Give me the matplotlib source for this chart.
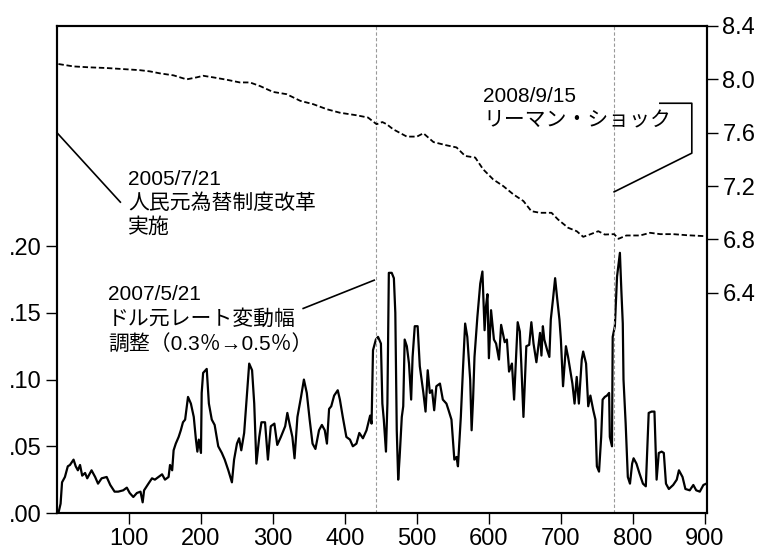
import numpy as np
import matplotlib
matplotlib.use('Agg')
import matplotlib.pyplot as plt
from matplotlib.ticker import FuncFormatter

plt.rcParams['font.family'] = ['Liberation Sans', 'Noto Sans CJK JP', 'DejaVu Sans']

# solid line (left axis): observation number / value
vol_x = [2, 5, 7, 11, 15, 18, 23, 26, 29, 32, 35, 39, 42, 48, 53, 57, 62, 69, 74, 80,
         85, 92, 97, 101, 106, 111, 116, 119, 121, 127, 132, 136, 141, 146, 150, 155, 157, 160, 162, 165,
         169, 172, 175, 178, 182, 186, 190, 193, 195, 197, 200, 201, 203, 208, 211, 215, 219, 224, 229, 233,
         238, 243, 246, 250, 253, 256, 260, 263, 267, 271, 274, 277, 281, 284, 289, 293, 297, 302, 306, 311,
         317, 320, 323, 327, 330, 334, 339, 343, 347, 351, 355, 359, 364, 368, 372, 375, 378, 381, 385, 390,
         393, 397, 402, 407, 411, 416, 420, 425, 430, 435, 437, 439, 443, 446, 450, 452, 454, 457, 459, 461,
         465, 468, 470, 472, 474, 476, 479, 481, 483, 486, 489, 492, 494, 497, 501, 504, 509, 512, 515, 518,
         521, 524, 527, 532, 536, 541, 544, 548, 552, 555, 557, 561, 564, 567, 570, 574, 576, 578, 580, 584,
         588, 591, 594, 596, 598, 600, 603, 607, 610, 614, 617, 622, 625, 628, 632, 635, 640, 643, 645, 648,
         652, 656, 659, 662, 666, 671, 673, 675, 677, 681, 684, 686, 689, 692, 695, 698, 700, 703, 707, 710,
         713, 716, 719, 722, 725, 729, 731, 735, 738, 741, 745, 748, 750, 753, 756, 758, 761, 764, 767, 768,
         771, 772, 775, 778, 782, 784, 786, 787, 790, 793, 796, 799, 801, 805, 809, 814, 818, 822, 826, 830,
         833, 836, 840, 843, 846, 850, 856, 861, 864, 869, 873, 879, 884, 888, 893, 898, 902]
vol_y = [0.000, 0.007, 0.023, 0.027, 0.035, 0.036, 0.040, 0.035, 0.032, 0.036, 0.028, 0.030, 0.026, 0.032, 0.027, 0.022, 0.026, 0.027, 0.021, 0.016,
         0.016, 0.017, 0.019, 0.015, 0.012, 0.015, 0.016, 0.008, 0.017, 0.022, 0.026, 0.025, 0.027, 0.029, 0.025, 0.027, 0.036, 0.032, 0.047, 0.052,
         0.057, 0.062, 0.068, 0.070, 0.087, 0.082, 0.072, 0.055, 0.046, 0.055, 0.045, 0.090, 0.105, 0.108, 0.082, 0.070, 0.066, 0.050, 0.045, 0.040,
         0.032, 0.023, 0.040, 0.052, 0.056, 0.047, 0.060, 0.082, 0.112, 0.107, 0.082, 0.037, 0.057, 0.068, 0.068, 0.040, 0.065, 0.067, 0.051, 0.057,
         0.065, 0.075, 0.067, 0.057, 0.041, 0.072, 0.087, 0.100, 0.090, 0.070, 0.052, 0.048, 0.062, 0.066, 0.062, 0.052, 0.078, 0.080, 0.088, 0.092,
         0.085, 0.072, 0.057, 0.055, 0.050, 0.052, 0.060, 0.056, 0.062, 0.073, 0.067, 0.122, 0.130, 0.132, 0.127, 0.082, 0.070, 0.046, 0.082, 0.180,
         0.180, 0.176, 0.150, 0.062, 0.025, 0.042, 0.072, 0.080, 0.130, 0.125, 0.112, 0.085, 0.117, 0.140, 0.140, 0.110, 0.090, 0.076, 0.107, 0.090,
         0.092, 0.077, 0.095, 0.097, 0.085, 0.082, 0.077, 0.070, 0.040, 0.042, 0.035, 0.072, 0.108, 0.142, 0.132, 0.100, 0.062, 0.085, 0.117, 0.147,
         0.172, 0.181, 0.137, 0.155, 0.164, 0.116, 0.152, 0.130, 0.127, 0.115, 0.141, 0.128, 0.130, 0.106, 0.112, 0.085, 0.143, 0.136, 0.112, 0.072,
         0.125, 0.126, 0.143, 0.127, 0.113, 0.135, 0.118, 0.140, 0.130, 0.122, 0.117, 0.145, 0.160, 0.176, 0.160, 0.145, 0.130, 0.095, 0.125, 0.117,
         0.107, 0.097, 0.082, 0.102, 0.082, 0.115, 0.121, 0.112, 0.080, 0.088, 0.077, 0.070, 0.035, 0.031, 0.057, 0.085, 0.087, 0.088, 0.090, 0.057,
         0.050, 0.132, 0.140, 0.177, 0.195, 0.167, 0.142, 0.100, 0.067, 0.027, 0.022, 0.037, 0.041, 0.037, 0.030, 0.022, 0.020, 0.075, 0.076, 0.076,
         0.025, 0.045, 0.046, 0.045, 0.022, 0.018, 0.021, 0.025, 0.032, 0.027, 0.018, 0.017, 0.021, 0.017, 0.016, 0.021, 0.022]

# dashed line (right axis): yuan per dollar
rate_x = [2, 23, 46, 69, 92, 115, 129, 143, 162, 180, 194, 203, 217, 236, 254, 268, 282, 300, 319, 338,
          356, 375, 393, 416, 432, 444, 452, 458, 467, 486, 500, 509, 523, 541, 555, 567, 581, 592, 606, 620,
          634, 648, 659, 671, 687, 696, 710, 722, 731, 740, 752, 761, 774, 780, 791, 810, 824, 838, 856, 875, 900]
rate_y = [8.115, 8.097, 8.090, 8.085, 8.077, 8.069, 8.060, 8.045, 8.030, 8.000, 8.015, 8.027, 8.015, 7.997, 7.977, 7.977, 7.950, 7.906, 7.889, 7.839,
          7.814, 7.776, 7.750, 7.731, 7.714, 7.664, 7.680, 7.664, 7.626, 7.571, 7.571, 7.596, 7.530, 7.506, 7.490, 7.426, 7.414, 7.326, 7.250, 7.200,
          7.138, 7.088, 7.012, 7.000, 7.000, 6.950, 6.888, 6.862, 6.820, 6.837, 6.862, 6.837, 6.840, 6.805, 6.830, 6.830, 6.850, 6.840, 6.840, 6.832, 6.825]

events = [443, 774]
left_ticks = [0.00, 0.05, 0.10, 0.15, 0.20]
right_ticks = [6.4, 6.8, 7.2, 7.6, 8.0, 8.4]
x_ticks = [100, 200, 300, 400, 500, 600, 700, 800, 900]

fig = plt.figure(figsize=(7.64, 5.51), dpi=100)
ax = fig.add_axes([57 / 764, 1 - 513 / 551, 650 / 764, 487 / 551])
ax2 = ax.twinx()

ax.plot(vol_x, vol_y, color='black', lw=1.6)
ax2.plot(rate_x, rate_y, color='black', lw=1.3, linestyle=(0, (3, 1.5)))
for e in events:
    ax.axvline(e, color='#999999', lw=0.8, linestyle=(0, (3, 2)))

ax.set_xlim(0, 903)
ax.set_ylim(0, 0.365)
ax2.set_ylim(4.75, 8.4)

ax.set_xticks(x_ticks)
ax.set_yticks(left_ticks)
ax.yaxis.set_major_formatter(FuncFormatter(lambda v, p: ('%.2f' % v)[1:]))
ax2.set_yticks(right_ticks)
ax2.yaxis.set_major_formatter(FuncFormatter(lambda v, p: '%.1f' % v))

for a in (ax, ax2):
    a.tick_params(direction='out', length=8, width=1, labelsize=17, pad=3)
    for s in a.spines.values():
        s.set_linewidth(1.5)

txt = dict(fontsize=15, ha='left', va='center', linespacing=1.3)
ax.text(99, 0.232, '2005/7/21\n人民元為替制度改革\n実施', **txt)
ax.text(71, 0.145, '2007/5/21\nドル元レート変動幅\n調整（0.3％→0.5％）', **txt)
ax.text(592, 0.303, '2008/9/15\nリーマン・ショック', **txt)

# leader lines
ax.plot([0, 88], [0.285, 0.233], color='black', lw=1.2, clip_on=False)
ax.plot([342, 440.7], [0.1533, 0.1745], color='black', lw=1.2)
ax.plot([837.5, 881.9, 881.9, 774], [0.3071, 0.3071, 0.2697, 0.2407], color='black', lw=1.2)

fig.savefig('out.png', dpi=100)
